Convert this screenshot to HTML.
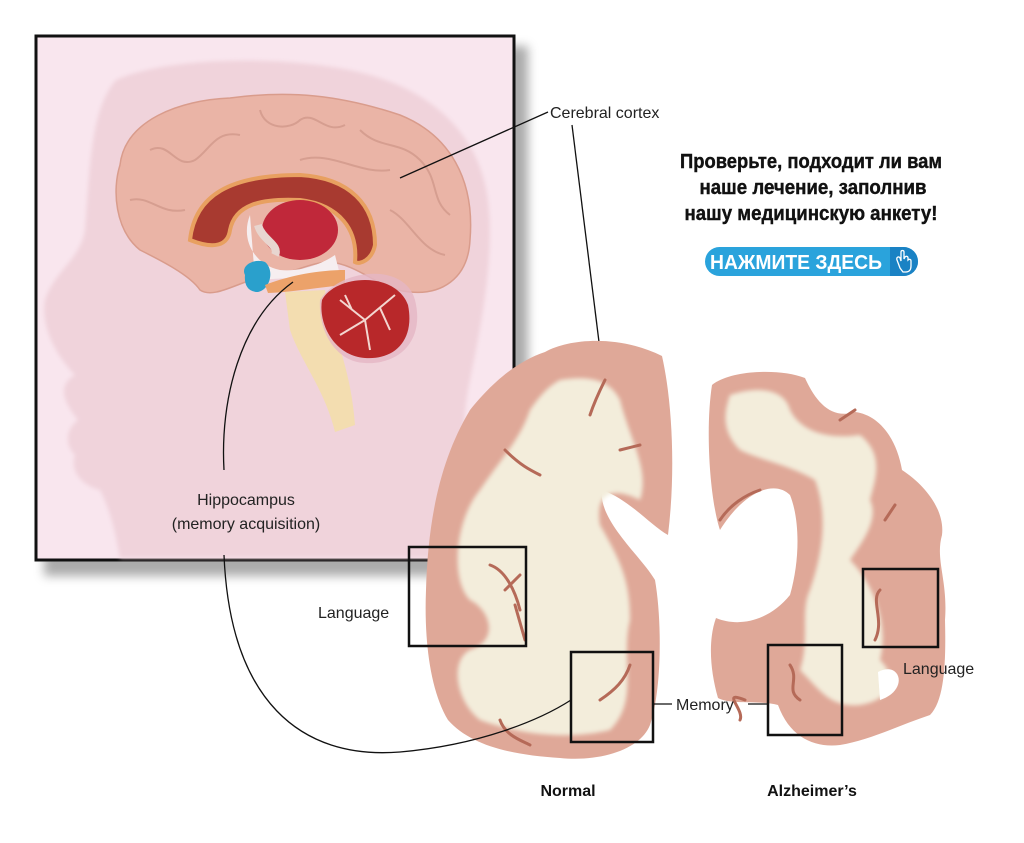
<!DOCTYPE html>
<html><head><meta charset="utf-8"><style>
body{margin:0;background:#fff;width:1024px;height:843px;overflow:hidden;font-family:"Liberation Sans",sans-serif}
svg{position:absolute;left:0;top:0}
</style></head><body>
<svg width="1024" height="843" viewBox="0 0 1024 843" xmlns="http://www.w3.org/2000/svg">
<defs>
<filter id="b2"><feGaussianBlur stdDeviation="2"/></filter>
<filter id="b4"><feGaussianBlur stdDeviation="5"/></filter>
</defs>
<rect x="44" y="46" width="484" height="530" fill="#888" filter="url(#b4)" opacity="0.7"/>
<rect x="36" y="36" width="478" height="524" fill="#f9e6ee" stroke="#111" stroke-width="3"/>
<path d="M116,80 C170,55 300,55 370,75 C440,95 480,140 488,200 C495,260 480,330 470,380 C455,450 470,500 500,558 L120,558 C115,530 110,510 100,490 C80,485 70,470 75,455 C65,445 65,430 78,420 C62,400 58,385 75,375 C60,360 40,330 45,300 C55,270 80,260 85,230 C90,170 90,110 116,80 Z" fill="#f0d3db" filter="url(#b2)"/>
<path d="M120,165 C125,120 180,100 230,98 C290,90 340,95 400,115 C450,135 475,180 470,240 C468,280 440,295 410,292 C380,290 360,265 330,262 C310,262 290,275 270,275 C240,280 215,300 200,290 C190,275 160,260 140,250 C115,230 112,190 120,165 Z" fill="#eab4a6" stroke="#d99c8c" stroke-width="1.5"/>
<g fill="none" stroke="#d69e90" stroke-width="2">
<path d="M150,150 C170,140 175,170 195,160 C210,150 215,130 240,135"/>
<path d="M260,110 C265,130 290,130 300,120 C315,110 325,135 345,125"/>
<path d="M360,130 C380,150 400,140 420,160 C440,180 430,200 450,215"/>
<path d="M130,200 C150,195 160,215 185,210"/>
<path d="M390,210 C410,220 420,250 445,255"/>
<path d="M300,160 C330,150 360,175 390,170"/>
</g>
<path d="M190,240 C195,195 230,175 300,175 C350,178 375,205 375,245 C372,260 360,265 355,262 C358,230 340,205 300,200 C260,198 235,205 230,230 C228,245 215,250 190,240 Z" fill="#a83a30" stroke="#e8a060" stroke-width="4"/>
<ellipse cx="300" cy="230" rx="38" ry="30" fill="#c0283a"/>
<path d="M250,215 C240,240 255,265 280,270 C300,272 320,265 335,255 L340,275 L255,280 Z" fill="#f6eef0"/>
<path d="M258,225 C262,240 280,245 275,255" stroke="#e8d6d0" stroke-width="8" fill="none"/>
<path d="M245,275 C240,265 255,258 265,262 C275,270 270,290 258,292 C248,292 244,285 245,275 Z" fill="#2aa0cc"/>
<path d="M265,285 C290,275 320,270 345,270 L345,285 C320,287 295,292 268,293 Z" fill="#eca26a"/>
<path d="M285,292 L325,290 C330,330 350,360 355,425 L335,432 C325,390 300,360 290,330 Z" fill="#f3ddb0"/>
<path d="M320,300 C340,268 405,262 415,300 C425,340 400,365 365,363 C335,362 318,330 320,300 Z" fill="#e5b7c4" opacity="0.8"/>
<path d="M322,300 C335,275 395,270 408,305 C415,340 395,360 365,358 C335,356 318,325 322,300 Z" fill="#b8282a"/>
<g stroke="#f3d6d0" stroke-width="2" fill="none">
<path d="M340,300 L365,320 L395,295 M365,320 L370,350 M365,320 L340,335 M352,310 L345,295 M380,308 L390,330"/>
</g>
<path d="M400,178 L548,112" stroke="#111" stroke-width="1.3" fill="none"/>
<path d="M293,282 C240,320 220,400 224,470" stroke="#111" stroke-width="1.3" fill="none"/>
<text x="246" y="505" font-size="16" text-anchor="middle" fill="#222">Hippocampus</text>
<text x="246" y="529" font-size="16" text-anchor="middle" fill="#222">(memory acquisition)</text>
<text x="550" y="118" font-size="16" fill="#222">Cerebral cortex</text>
<path d="M572,125 L600,350" stroke="#111" stroke-width="1.3"/>
<path d="M545,352 C570,338 620,335 662,356 C672,400 676,470 668,535 C650,525 630,500 602,490 C598,520 640,555 655,580 C662,620 662,690 650,725 C640,750 600,762 560,758 C510,755 470,745 448,720 C430,690 424,640 426,590 C428,520 440,460 470,410 C490,385 515,362 545,352 Z" fill="#dfa898"/>
<path d="M560,380 C590,375 610,380 620,400 C630,440 650,470 640,500 C610,485 595,495 600,525 C620,560 630,580 630,620 C620,660 640,700 610,730 C570,740 520,735 480,720 C455,700 450,660 470,650 C500,640 490,610 470,600 C450,580 455,520 480,490 C500,460 520,440 530,410 C540,395 550,385 560,380 Z" fill="#f3eddb" filter="url(#b2)"/>
<g stroke="#b56a58" stroke-width="3" fill="none" stroke-linecap="round">
<path d="M490,565 C505,570 515,590 520,610 M505,590 L520,575 M515,605 L525,640"/>
<path d="M590,415 C595,400 600,390 605,380"/>
<path d="M600,700 C615,690 625,680 630,665"/>
<path d="M505,450 C520,465 530,470 540,475"/>
<path d="M620,450 L640,445"/>
<path d="M500,720 C505,735 520,740 530,745"/>
</g>
<path d="M712,385 C730,370 780,368 805,378 C815,400 830,420 855,412 C880,415 897,440 902,470 C925,485 945,510 942,535 C935,560 948,580 945,620 C946,660 945,700 930,715 C900,725 870,740 840,745 C815,748 790,738 778,705 C760,700 730,705 718,698 C710,670 708,640 716,618 C740,628 770,620 790,595 C800,560 800,520 790,495 C775,480 745,490 720,530 C710,500 705,430 712,385 Z" fill="#dfa898"/>
<path d="M730,395 C760,385 785,390 790,410 C800,430 825,440 860,435 C885,455 875,480 870,500 C880,520 860,545 850,560 C870,580 890,620 880,660 C900,680 890,700 860,705 C830,708 820,690 800,670 C810,640 800,610 810,590 C820,560 830,520 815,480 C790,465 760,460 740,450 C720,430 725,410 730,395 Z" fill="#f3eddb" filter="url(#b2)"/>
<path d="M878,672 C900,660 910,690 880,700 Z" fill="#fff"/>
<g stroke="#b56a58" stroke-width="3" fill="none" stroke-linecap="round">
<path d="M880,590 C870,600 885,620 875,640"/>
<path d="M740,720 C745,710 720,690 745,700"/>
<path d="M790,665 C800,680 785,690 800,700"/>
<path d="M720,520 C730,505 745,495 760,490"/>
<path d="M840,420 L855,410"/>
<path d="M885,520 L895,505"/>
</g>
<g fill="none" stroke="#111" stroke-width="2.5">
<rect x="409" y="547" width="117" height="99"/>
<rect x="571" y="652" width="82" height="90"/>
<rect x="863" y="569" width="75" height="78"/>
<rect x="768" y="645" width="74" height="90"/>
</g>
<path d="M224,555 C230,700 300,760 400,752 C480,745 540,720 571,700" stroke="#111" stroke-width="1.3" fill="none"/>
<path d="M653,704 L672,704 M748,704 L768,704" stroke="#111" stroke-width="1.3"/>
<text x="318" y="618" font-size="16" fill="#222">Language</text>
<text x="676" y="710" font-size="16" fill="#222">Memory</text>
<text x="903" y="674" font-size="16" fill="#222">Language</text>
<text x="568" y="796" font-size="16" font-weight="bold" text-anchor="middle" fill="#111">Normal</text>
<text x="812" y="796" font-size="16" font-weight="bold" text-anchor="middle" fill="#111">Alzheimer’s</text>
<g font-weight="bold" font-size="20" fill="#111" text-anchor="middle" stroke="#111" stroke-width="0.4">
<text x="811" y="168" textLength="262" lengthAdjust="spacingAndGlyphs">Проверьте, подходит ли вам</text>
<text x="813" y="194" textLength="227" lengthAdjust="spacingAndGlyphs">наше лечение, заполнив</text>
<text x="811" y="220" textLength="253" lengthAdjust="spacingAndGlyphs">нашу медицинскую анкету!</text>
</g>
<rect x="705" y="247" width="213" height="29" rx="14.5" fill="#2aa3dc"/>
<path d="M890,247 L903.5,247 A14.5,14.5 0 0 1 903.5,276 L890,276 Z" fill="#1a82c4"/>
<text x="796" y="269" font-size="20" font-weight="bold" fill="#fff" text-anchor="middle" textLength="172" lengthAdjust="spacingAndGlyphs">НАЖМИТЕ ЗДЕСЬ</text>
<path d="M900,268 L897,260 C896,257 899,256 900,258 L901,261 L901,252 C901,250 904,250 904,252 L904,259 L905,257 C906,256 908,256 908,258 L908,260 C909,259 911,259 911,261 L911,266 C911,270 909,272 906,272 L903,272 Z" fill="none" stroke="#fff" stroke-width="1.3"/>
</svg>
</body></html>
